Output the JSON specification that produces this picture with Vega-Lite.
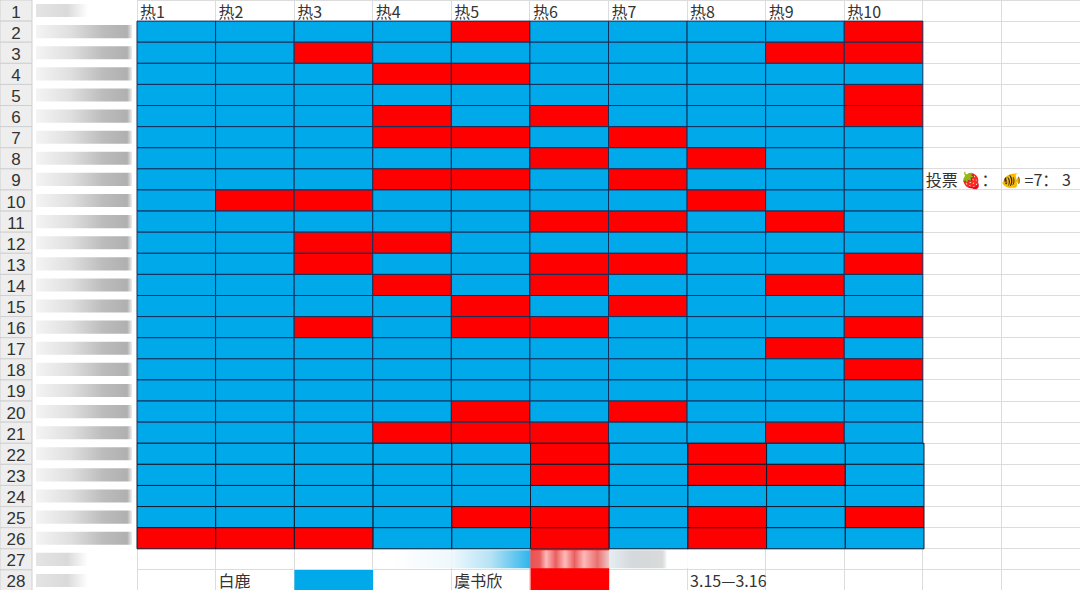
{
  "$schema": "https://vega.github.io/schema/vega-lite/v6.json",
  "width": 1080,
  "height": 590,
  "padding": 0,
  "autosize": "none",
  "background": "#ffffff",
  "config": {"view": {"stroke": null}},
  "datasets": {
    "rows": [
      {"row":1},{"row":2},{"row":3},{"row":4},{"row":5},{"row":6},{"row":7},{"row":8},{"row":9},{"row":10},
      {"row":11},{"row":12},{"row":13},{"row":14},{"row":15},{"row":16},{"row":17},{"row":18},{"row":19},{"row":20},
      {"row":21},{"row":22},{"row":23},{"row":24},{"row":25},{"row":26},{"row":27},{"row":28}
    ],
    "labels": [
      {"row":1,"col":"热1","label":"热1"},{"row":1,"col":"热2","label":"热2"},{"row":1,"col":"热3","label":"热3"},
      {"row":1,"col":"热4","label":"热4"},{"row":1,"col":"热5","label":"热5"},{"row":1,"col":"热6","label":"热6"},
      {"row":1,"col":"热7","label":"热7"},{"row":1,"col":"热8","label":"热8"},{"row":1,"col":"热9","label":"热9"},
      {"row":1,"col":"热10","label":"热10"},
      {"row":9,"col":"K","label":"投票 🍓：  🐠 =7： 3"},
      {"row":28,"col":"热2","label":"白鹿"},{"row":28,"col":"热5","label":"虞书欣"},{"row":28,"col":"热8","label":"3.15—3.16"}
    ],
    "cells": [
      {"row":2,"col":"热1","who":"白鹿"},{"row":2,"col":"热2","who":"白鹿"},{"row":2,"col":"热3","who":"白鹿"},{"row":2,"col":"热4","who":"白鹿"},{"row":2,"col":"热5","who":"虞书欣"},{"row":2,"col":"热6","who":"白鹿"},{"row":2,"col":"热7","who":"白鹿"},{"row":2,"col":"热8","who":"白鹿"},{"row":2,"col":"热9","who":"白鹿"},{"row":2,"col":"热10","who":"虞书欣"},
      {"row":3,"col":"热1","who":"白鹿"},{"row":3,"col":"热2","who":"白鹿"},{"row":3,"col":"热3","who":"虞书欣"},{"row":3,"col":"热4","who":"白鹿"},{"row":3,"col":"热5","who":"白鹿"},{"row":3,"col":"热6","who":"白鹿"},{"row":3,"col":"热7","who":"白鹿"},{"row":3,"col":"热8","who":"白鹿"},{"row":3,"col":"热9","who":"虞书欣"},{"row":3,"col":"热10","who":"虞书欣"},
      {"row":4,"col":"热1","who":"白鹿"},{"row":4,"col":"热2","who":"白鹿"},{"row":4,"col":"热3","who":"白鹿"},{"row":4,"col":"热4","who":"虞书欣"},{"row":4,"col":"热5","who":"虞书欣"},{"row":4,"col":"热6","who":"白鹿"},{"row":4,"col":"热7","who":"白鹿"},{"row":4,"col":"热8","who":"白鹿"},{"row":4,"col":"热9","who":"白鹿"},{"row":4,"col":"热10","who":"白鹿"},
      {"row":5,"col":"热1","who":"白鹿"},{"row":5,"col":"热2","who":"白鹿"},{"row":5,"col":"热3","who":"白鹿"},{"row":5,"col":"热4","who":"白鹿"},{"row":5,"col":"热5","who":"白鹿"},{"row":5,"col":"热6","who":"白鹿"},{"row":5,"col":"热7","who":"白鹿"},{"row":5,"col":"热8","who":"白鹿"},{"row":5,"col":"热9","who":"白鹿"},{"row":5,"col":"热10","who":"虞书欣"},
      {"row":6,"col":"热1","who":"白鹿"},{"row":6,"col":"热2","who":"白鹿"},{"row":6,"col":"热3","who":"白鹿"},{"row":6,"col":"热4","who":"虞书欣"},{"row":6,"col":"热5","who":"白鹿"},{"row":6,"col":"热6","who":"虞书欣"},{"row":6,"col":"热7","who":"白鹿"},{"row":6,"col":"热8","who":"白鹿"},{"row":6,"col":"热9","who":"白鹿"},{"row":6,"col":"热10","who":"虞书欣"},
      {"row":7,"col":"热1","who":"白鹿"},{"row":7,"col":"热2","who":"白鹿"},{"row":7,"col":"热3","who":"白鹿"},{"row":7,"col":"热4","who":"虞书欣"},{"row":7,"col":"热5","who":"虞书欣"},{"row":7,"col":"热6","who":"白鹿"},{"row":7,"col":"热7","who":"虞书欣"},{"row":7,"col":"热8","who":"白鹿"},{"row":7,"col":"热9","who":"白鹿"},{"row":7,"col":"热10","who":"白鹿"},
      {"row":8,"col":"热1","who":"白鹿"},{"row":8,"col":"热2","who":"白鹿"},{"row":8,"col":"热3","who":"白鹿"},{"row":8,"col":"热4","who":"白鹿"},{"row":8,"col":"热5","who":"白鹿"},{"row":8,"col":"热6","who":"虞书欣"},{"row":8,"col":"热7","who":"白鹿"},{"row":8,"col":"热8","who":"虞书欣"},{"row":8,"col":"热9","who":"白鹿"},{"row":8,"col":"热10","who":"白鹿"},
      {"row":9,"col":"热1","who":"白鹿"},{"row":9,"col":"热2","who":"白鹿"},{"row":9,"col":"热3","who":"白鹿"},{"row":9,"col":"热4","who":"虞书欣"},{"row":9,"col":"热5","who":"虞书欣"},{"row":9,"col":"热6","who":"白鹿"},{"row":9,"col":"热7","who":"虞书欣"},{"row":9,"col":"热8","who":"白鹿"},{"row":9,"col":"热9","who":"白鹿"},{"row":9,"col":"热10","who":"白鹿"},
      {"row":10,"col":"热1","who":"白鹿"},{"row":10,"col":"热2","who":"虞书欣"},{"row":10,"col":"热3","who":"虞书欣"},{"row":10,"col":"热4","who":"白鹿"},{"row":10,"col":"热5","who":"白鹿"},{"row":10,"col":"热6","who":"白鹿"},{"row":10,"col":"热7","who":"白鹿"},{"row":10,"col":"热8","who":"虞书欣"},{"row":10,"col":"热9","who":"白鹿"},{"row":10,"col":"热10","who":"白鹿"},
      {"row":11,"col":"热1","who":"白鹿"},{"row":11,"col":"热2","who":"白鹿"},{"row":11,"col":"热3","who":"白鹿"},{"row":11,"col":"热4","who":"白鹿"},{"row":11,"col":"热5","who":"白鹿"},{"row":11,"col":"热6","who":"虞书欣"},{"row":11,"col":"热7","who":"虞书欣"},{"row":11,"col":"热8","who":"白鹿"},{"row":11,"col":"热9","who":"虞书欣"},{"row":11,"col":"热10","who":"白鹿"},
      {"row":12,"col":"热1","who":"白鹿"},{"row":12,"col":"热2","who":"白鹿"},{"row":12,"col":"热3","who":"虞书欣"},{"row":12,"col":"热4","who":"虞书欣"},{"row":12,"col":"热5","who":"白鹿"},{"row":12,"col":"热6","who":"白鹿"},{"row":12,"col":"热7","who":"白鹿"},{"row":12,"col":"热8","who":"白鹿"},{"row":12,"col":"热9","who":"白鹿"},{"row":12,"col":"热10","who":"白鹿"},
      {"row":13,"col":"热1","who":"白鹿"},{"row":13,"col":"热2","who":"白鹿"},{"row":13,"col":"热3","who":"虞书欣"},{"row":13,"col":"热4","who":"白鹿"},{"row":13,"col":"热5","who":"白鹿"},{"row":13,"col":"热6","who":"虞书欣"},{"row":13,"col":"热7","who":"虞书欣"},{"row":13,"col":"热8","who":"白鹿"},{"row":13,"col":"热9","who":"白鹿"},{"row":13,"col":"热10","who":"虞书欣"},
      {"row":14,"col":"热1","who":"白鹿"},{"row":14,"col":"热2","who":"白鹿"},{"row":14,"col":"热3","who":"白鹿"},{"row":14,"col":"热4","who":"虞书欣"},{"row":14,"col":"热5","who":"白鹿"},{"row":14,"col":"热6","who":"虞书欣"},{"row":14,"col":"热7","who":"白鹿"},{"row":14,"col":"热8","who":"白鹿"},{"row":14,"col":"热9","who":"虞书欣"},{"row":14,"col":"热10","who":"白鹿"},
      {"row":15,"col":"热1","who":"白鹿"},{"row":15,"col":"热2","who":"白鹿"},{"row":15,"col":"热3","who":"白鹿"},{"row":15,"col":"热4","who":"白鹿"},{"row":15,"col":"热5","who":"虞书欣"},{"row":15,"col":"热6","who":"白鹿"},{"row":15,"col":"热7","who":"虞书欣"},{"row":15,"col":"热8","who":"白鹿"},{"row":15,"col":"热9","who":"白鹿"},{"row":15,"col":"热10","who":"白鹿"},
      {"row":16,"col":"热1","who":"白鹿"},{"row":16,"col":"热2","who":"白鹿"},{"row":16,"col":"热3","who":"虞书欣"},{"row":16,"col":"热4","who":"白鹿"},{"row":16,"col":"热5","who":"虞书欣"},{"row":16,"col":"热6","who":"虞书欣"},{"row":16,"col":"热7","who":"白鹿"},{"row":16,"col":"热8","who":"白鹿"},{"row":16,"col":"热9","who":"白鹿"},{"row":16,"col":"热10","who":"虞书欣"},
      {"row":17,"col":"热1","who":"白鹿"},{"row":17,"col":"热2","who":"白鹿"},{"row":17,"col":"热3","who":"白鹿"},{"row":17,"col":"热4","who":"白鹿"},{"row":17,"col":"热5","who":"白鹿"},{"row":17,"col":"热6","who":"白鹿"},{"row":17,"col":"热7","who":"白鹿"},{"row":17,"col":"热8","who":"白鹿"},{"row":17,"col":"热9","who":"虞书欣"},{"row":17,"col":"热10","who":"白鹿"},
      {"row":18,"col":"热1","who":"白鹿"},{"row":18,"col":"热2","who":"白鹿"},{"row":18,"col":"热3","who":"白鹿"},{"row":18,"col":"热4","who":"白鹿"},{"row":18,"col":"热5","who":"白鹿"},{"row":18,"col":"热6","who":"白鹿"},{"row":18,"col":"热7","who":"白鹿"},{"row":18,"col":"热8","who":"白鹿"},{"row":18,"col":"热9","who":"白鹿"},{"row":18,"col":"热10","who":"虞书欣"},
      {"row":19,"col":"热1","who":"白鹿"},{"row":19,"col":"热2","who":"白鹿"},{"row":19,"col":"热3","who":"白鹿"},{"row":19,"col":"热4","who":"白鹿"},{"row":19,"col":"热5","who":"白鹿"},{"row":19,"col":"热6","who":"白鹿"},{"row":19,"col":"热7","who":"白鹿"},{"row":19,"col":"热8","who":"白鹿"},{"row":19,"col":"热9","who":"白鹿"},{"row":19,"col":"热10","who":"白鹿"},
      {"row":20,"col":"热1","who":"白鹿"},{"row":20,"col":"热2","who":"白鹿"},{"row":20,"col":"热3","who":"白鹿"},{"row":20,"col":"热4","who":"白鹿"},{"row":20,"col":"热5","who":"虞书欣"},{"row":20,"col":"热6","who":"白鹿"},{"row":20,"col":"热7","who":"虞书欣"},{"row":20,"col":"热8","who":"白鹿"},{"row":20,"col":"热9","who":"白鹿"},{"row":20,"col":"热10","who":"白鹿"},
      {"row":21,"col":"热1","who":"白鹿"},{"row":21,"col":"热2","who":"白鹿"},{"row":21,"col":"热3","who":"白鹿"},{"row":21,"col":"热4","who":"虞书欣"},{"row":21,"col":"热5","who":"虞书欣"},{"row":21,"col":"热6","who":"虞书欣"},{"row":21,"col":"热7","who":"白鹿"},{"row":21,"col":"热8","who":"白鹿"},{"row":21,"col":"热9","who":"虞书欣"},{"row":21,"col":"热10","who":"白鹿"},
      {"row":22,"col":"热1","who":"白鹿"},{"row":22,"col":"热2","who":"白鹿"},{"row":22,"col":"热3","who":"白鹿"},{"row":22,"col":"热4","who":"白鹿"},{"row":22,"col":"热5","who":"白鹿"},{"row":22,"col":"热6","who":"虞书欣"},{"row":22,"col":"热7","who":"白鹿"},{"row":22,"col":"热8","who":"虞书欣"},{"row":22,"col":"热9","who":"白鹿"},{"row":22,"col":"热10","who":"白鹿"},
      {"row":23,"col":"热1","who":"白鹿"},{"row":23,"col":"热2","who":"白鹿"},{"row":23,"col":"热3","who":"白鹿"},{"row":23,"col":"热4","who":"白鹿"},{"row":23,"col":"热5","who":"白鹿"},{"row":23,"col":"热6","who":"虞书欣"},{"row":23,"col":"热7","who":"白鹿"},{"row":23,"col":"热8","who":"虞书欣"},{"row":23,"col":"热9","who":"虞书欣"},{"row":23,"col":"热10","who":"白鹿"},
      {"row":24,"col":"热1","who":"白鹿"},{"row":24,"col":"热2","who":"白鹿"},{"row":24,"col":"热3","who":"白鹿"},{"row":24,"col":"热4","who":"白鹿"},{"row":24,"col":"热5","who":"白鹿"},{"row":24,"col":"热6","who":"白鹿"},{"row":24,"col":"热7","who":"白鹿"},{"row":24,"col":"热8","who":"白鹿"},{"row":24,"col":"热9","who":"白鹿"},{"row":24,"col":"热10","who":"白鹿"},
      {"row":25,"col":"热1","who":"白鹿"},{"row":25,"col":"热2","who":"白鹿"},{"row":25,"col":"热3","who":"白鹿"},{"row":25,"col":"热4","who":"白鹿"},{"row":25,"col":"热5","who":"虞书欣"},{"row":25,"col":"热6","who":"虞书欣"},{"row":25,"col":"热7","who":"白鹿"},{"row":25,"col":"热8","who":"虞书欣"},{"row":25,"col":"热9","who":"白鹿"},{"row":25,"col":"热10","who":"虞书欣"},
      {"row":26,"col":"热1","who":"虞书欣"},{"row":26,"col":"热2","who":"虞书欣"},{"row":26,"col":"热3","who":"虞书欣"},{"row":26,"col":"热4","who":"白鹿"},{"row":26,"col":"热5","who":"白鹿"},{"row":26,"col":"热6","who":"虞书欣"},{"row":26,"col":"热7","who":"白鹿"},{"row":26,"col":"热8","who":"虞书欣"},{"row":26,"col":"热9","who":"白鹿"},{"row":26,"col":"热10","who":"白鹿"}
    ],
    "swatches": [
      {"row":28,"col":"热3","who":"白鹿"},
      {"row":27,"col":"热6","who":"虞书欣"},
      {"row":28,"col":"热6","who":"虞书欣"}
    ]
  },
  "encoding": {
    "y": {
      "field": "row",
      "type": "ordinal",
      "title": null,
      "scale": {
        "type": "band",
        "domain": [1,2,3,4,5,6,7,8,9,10,11,12,13,14,15,16,17,18,19,20,21,22,23,24,25,26,27,28],
        "range": [0,591],
        "padding": 0
      },
      "axis": {"grid": true, "gridColor": "#dcdcdc", "bandPosition": 0, "labels": false, "ticks": false, "domain": false, "title": null}
    }
  },
  "layer": [
    {
      "data": {"name": "labels"},
      "mark": {"type": "text", "align": "left", "dx": 3, "dy": 2, "font": "Noto Sans CJK SC", "fontSize": 16, "color": "#333333"},
      "encoding": {
        "x": {
          "field": "col",
          "type": "ordinal",
          "bandPosition": 0,
          "scale": {"type": "band", "domain": ["热1","热2","热3","热4","热5","热6","热7","热8","热9","热10","K","L"], "range": [137,1080], "padding": 0},
          "axis": {"grid": true, "gridColor": "#dcdcdc", "bandPosition": 0, "labels": false, "ticks": false, "domain": false, "title": null}
        },
        "text": {"field": "label"}
      }
    },
    {
      "data": {"name": "cells"},
      "transform": [{"filter": "datum.row <= 21"}],
      "mark": {"type": "rect", "stroke": "#12305c", "strokeWidth": 1},
      "encoding": {
        "x": {
          "field": "col",
          "type": "ordinal",
          "scale": {"domain": ["热1","热2","热3","热4","热5","热6","热7","热8","热9","热10","K","L"], "range": [137,1080], "padding": 0},
          "axis": null
        },
        "fill": {"field": "who", "type": "nominal", "scale": {"domain": ["白鹿","虞书欣"], "range": ["#00a9ea","#ff0000"]}, "legend": null}
      }
    },
    {
      "data": {"name": "cells"},
      "transform": [{"filter": "datum.row >= 22"}],
      "mark": {"type": "rect", "stroke": "#0c1c30", "strokeWidth": 1},
      "encoding": {
        "x": {
          "field": "col",
          "type": "ordinal",
          "scale": {"domain": ["热1","热2","热3","热4","热5","热6","热7","热8","热9","热10"], "range": [137,924], "padding": 0},
          "axis": null
        },
        "fill": {"field": "who", "type": "nominal", "scale": {"domain": ["白鹿","虞书欣"], "range": ["#00a9ea","#ff0000"]}, "legend": null}
      }
    },
    {
      "data": {"name": "swatches"},
      "mark": {"type": "rect"},
      "encoding": {
        "x": {
          "field": "col",
          "type": "ordinal",
          "scale": {"domain": ["热1","热2","热3","热4","热5","热6","热7","热8","热9","热10"], "range": [137,924], "padding": 0},
          "axis": null
        },
        "fill": {"field": "who", "type": "nominal", "scale": {"domain": ["白鹿","虞书欣"], "range": ["#00a9ea","#ff0000"]}, "legend": null}
      }
    },
    {
      "data": {"values": [{"row":27,"col":"热4"}]},
      "mark": {
        "type": "rect",
        "height": {"band": 0.85},
        "fill": {"gradient": "linear", "x1": 0, "x2": 1, "y1": 0, "y2": 0, "stops": [
          {"offset": 0, "color": "#ffffff"},
          {"offset": 0.25, "color": "#ffffff"},
          {"offset": 1, "color": "#eef8fc"}
        ]}
      },
      "encoding": {
        "x": {
          "field": "col",
          "type": "ordinal",
          "scale": {"domain": ["热1","热2","热3","热4","热5","热6","热7","热8","热9","热10"], "range": [137,924], "padding": 0},
          "axis": null
        }
      }
    },
    {
      "data": {"values": [{"row":27,"col":"热5"}]},
      "mark": {
        "type": "rect",
        "height": {"band": 0.85},
        "fill": {"gradient": "linear", "x1": 0, "x2": 1, "y1": 0, "y2": 0, "stops": [
          {"offset": 0, "color": "#eef8fc"},
          {"offset": 0.5, "color": "#b5e2f5"},
          {"offset": 1, "color": "#2db5ec"}
        ]}
      },
      "encoding": {
        "x": {
          "field": "col",
          "type": "ordinal",
          "scale": {"domain": ["热1","热2","热3","热4","热5","热6","热7","热8","热9","热10"], "range": [137,924], "padding": 0},
          "axis": null
        }
      }
    },
    {
      "data": {"values": [{"row":27,"col":"热6"}]},
      "mark": {
        "type": "rect",
        "height": {"band": 0.85},
        "fill": {"gradient": "linear", "x1": 0, "x2": 1, "y1": 0, "y2": 0, "stops": [
          {"offset": 0, "color": "#f05050"},
          {"offset": 0.12, "color": "#e86060"},
          {"offset": 0.2, "color": "#ffb8b8"},
          {"offset": 0.32, "color": "#e86060"},
          {"offset": 0.44, "color": "#ffb8b8"},
          {"offset": 0.56, "color": "#e86060"},
          {"offset": 0.68, "color": "#ffb8b8"},
          {"offset": 0.85, "color": "#e87070"},
          {"offset": 1, "color": "#f0c8c8"}
        ]}
      },
      "encoding": {
        "x": {
          "field": "col",
          "type": "ordinal",
          "scale": {"domain": ["热1","热2","热3","热4","热5","热6","热7","热8","热9","热10"], "range": [137,924], "padding": 0},
          "axis": null
        }
      }
    },
    {
      "data": {"values": [{"row":27,"col":"热7"}]},
      "mark": {
        "type": "rect",
        "height": {"band": 0.85},
        "fill": {"gradient": "linear", "x1": 0, "x2": 1, "y1": 0, "y2": 0, "stops": [
          {"offset": 0, "color": "#e4eef2"},
          {"offset": 0.3, "color": "#d4d8da"},
          {"offset": 0.68, "color": "#d8dadb"},
          {"offset": 0.74, "color": "#ffffff"},
          {"offset": 1, "color": "#ffffff"}
        ]}
      },
      "encoding": {
        "x": {
          "field": "col",
          "type": "ordinal",
          "scale": {"domain": ["热1","热2","热3","热4","热5","热6","热7","热8","热9","热10"], "range": [137,924], "padding": 0},
          "axis": null
        }
      }
    },
    {
      "data": {"name": "rows"},
      "mark": {"type": "rect", "fill": "#eeeeee", "stroke": "#d0d0d0", "strokeWidth": 1},
      "encoding": {
        "x": {"datum": "A", "type": "ordinal", "scale": {"type": "band", "domain": ["A"], "range": [0,32], "padding": 0}, "axis": null}
      }
    },
    {
      "data": {"name": "rows"},
      "mark": {"type": "text", "font": "Liberation Sans", "fontSize": 17, "color": "#333333", "dy": 2},
      "encoding": {
        "x": {"datum": "A", "type": "ordinal", "scale": {"type": "band", "domain": ["A"], "range": [0,32], "padding": 0}, "axis": null},
        "text": {"field": "row"}
      }
    },
    {
      "data": {"name": "rows"},
      "transform": [{"filter": "datum.row >= 2 && datum.row <= 26"}],
      "mark": {
        "type": "rect",
        "height": {"band": 0.62},
        "fill": {"gradient": "linear", "x1": 0, "x2": 1, "y1": 0, "y2": 0, "stops": [
          {"offset": 0, "color": "#f4f4f4"},
          {"offset": 0.35, "color": "#e0e0e0"},
          {"offset": 0.7, "color": "#bcbcbc"},
          {"offset": 0.95, "color": "#b0b0b0"},
          {"offset": 1, "color": "#eeeeee"}
        ]}
      },
      "encoding": {
        "x": {"datum": "B", "type": "ordinal", "scale": {"type": "band", "domain": ["B"], "range": [36,132], "padding": 0}, "axis": null}
      }
    },
    {
      "data": {"name": "rows"},
      "transform": [{"filter": "datum.row == 1 || datum.row >= 27"}],
      "mark": {
        "type": "rect",
        "height": {"band": 0.62},
        "fill": {"gradient": "linear", "x1": 0, "x2": 1, "y1": 0, "y2": 0, "stops": [
          {"offset": 0, "color": "#e4e4e4"},
          {"offset": 0.6, "color": "#dadada"},
          {"offset": 1, "color": "#ffffff"}
        ]}
      },
      "encoding": {
        "x": {"datum": "B", "type": "ordinal", "scale": {"type": "band", "domain": ["B"], "range": [36,88], "padding": 0}, "axis": null}
      }
    }
  ],
  "resolve": {"scale": {"x": "independent"}}
}
